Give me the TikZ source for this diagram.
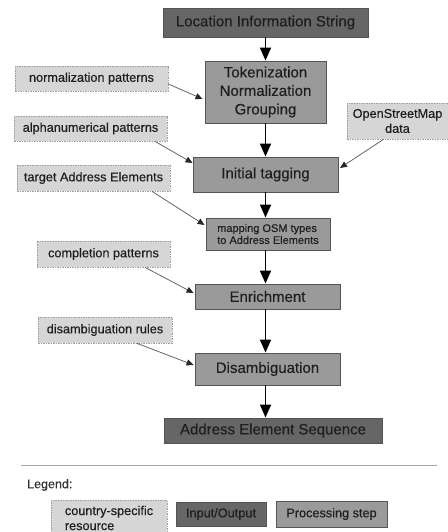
\documentclass[tikz,border=0pt]{standalone}
\usepackage{fontspec}
\setmainfont{Liberation Sans}[FakeBold=0.35]
\usetikzlibrary{arrows.meta,calc}
\definecolor{iofill}{HTML}{666666}
\definecolor{procfill}{HTML}{9A9A9A}
\definecolor{resfill}{HTML}{D6D6D6}
\definecolor{boxline}{HTML}{555555}
\definecolor{inkdark}{HTML}{1E1E1E}
\definecolor{tipdark}{HTML}{262626}
\tikzset{
  iobox/.style={draw=boxline, line width=0.9pt, fill=iofill, text=inkdark,
    inner sep=0pt, font=\fontsize{15}{18.5}\selectfont},
  procbox/.style={draw=boxline, line width=0.9pt, fill=procfill, text=inkdark,
    inner sep=0pt, align=center, font=\fontsize{15}{18.5}\selectfont},
  resbox/.style={draw=gray!75, line width=0.7pt, dash pattern=on 1.5pt off 1pt,
    fill=resfill, text=inkdark, inner sep=0pt, align=center,
    font=\fontsize{12.7}{15}\selectfont},
  flow/.style={line width=1.8pt, black,
    -{Triangle[length=13pt,width=11pt]}},
  feed/.style={line width=0.8pt, gray!80!black,
    -{Triangle[length=7pt,width=6pt,color=tipdark,fill=tipdark]}},
}
\begin{document}
\begin{tikzpicture}[x=1pt,y=-1pt]
\useasboundingbox[fill=white] (0,0) rectangle (447,532);

% processing chain
\node[iobox, minimum width=205pt, minimum height=29pt] (loc) at (265.5,22.5) {Location Information String};
\node[procbox, minimum width=121pt, minimum height=62pt] (tok) at (265.5,92) {Tokenization\\Normalization\\Grouping};
\node[procbox, minimum width=145pt, minimum height=35pt] (init) at (265.5,174.5) {Initial tagging};
\node[procbox, minimum width=124pt, minimum height=32pt, align=left,
      font=\fontsize{11}{12}\selectfont] (map) at (268,234) {mapping OSM types\\to Address Elements};
\node[procbox, minimum width=145pt, minimum height=25pt] (enr) at (267.5,296.5) {Enrichment};
\node[procbox, minimum width=145pt, minimum height=32pt] (dis) at (267.5,369) {Disambiguation};
\node[iobox, minimum width=218pt, minimum height=25pt] (aes) at (273,430.5) {Address Element Sequence};

% country-specific resources
\node[resbox, minimum width=153pt, minimum height=25pt] (norm) at (91.5,78.5) {normalization patterns};
\node[resbox, minimum width=153pt, minimum height=25pt] (alpha) at (90.5,128.5) {alphanumerical patterns};
\node[resbox, minimum width=101pt, minimum height=36pt] (osm) at (397.5,121) {OpenStreetMap\\data};
\node[resbox, minimum width=153pt, minimum height=26pt] (targ) at (93.5,178) {target Address Elements};
\node[resbox, minimum width=133pt, minimum height=26pt] (compl) at (103.5,254) {completion patterns};
\node[resbox, minimum width=134pt, minimum height=26pt] (drules) at (105,330) {disambiguation rules};

% main flow
\draw[flow] (loc.south -| tok.north) -- (tok.north);
\draw[flow] (tok.south) -- (tok.south |- init.north);
\draw[flow] (init.south) -- (init.south |- map.north);
\draw[flow] (map.south -| init.south) -- (enr.north -| init.south);
\draw[flow] (enr.south -| init.south) -- (dis.north -| init.south);
\draw[flow] (dis.south -| init.south) -- (aes.north -| init.south);

% resource inputs
\draw[feed] ($(norm.east)+(0,5.5)$) -- ($(tok.west)+(-2,7)$);
\draw[feed] ($(alpha.south)+(64.5,0)$) -- ($(init.west)+(0,-11.5)$);
\draw[feed] ($(osm.south)+(-14,0)$) -- ($(init.east)+(1.5,-6.5)$);
\draw[feed] ($(targ.south)+(58.5,0)$) -- ($(map.west)+(-1,-9)$);
\draw[feed] ($(compl.south)+(41.5,0)$) -- ($(enr.west)+(-1,-3.5)$);
\draw[feed] ($(drules.south)+(32,0)$) -- ($(dis.west)+(-1,-4)$);

% legend
\coordinate (sepL) at (21,465);
\coordinate (sepR) at (437,465);
\draw[gray!70, line width=0.8pt] (sepL) -- (sepR);
\node[anchor=west, inner sep=0pt, text=black!80, font=\fontsize{12.5}{15}\selectfont] (leg) at (27,485) {Legend:};
\node[resbox, minimum width=116pt, minimum height=36pt, align=left] (lres) at (109,518) {country-specific\\resource};
\node[iobox, minimum width=90pt, minimum height=24pt, font=\fontsize{12.7}{15}\selectfont] (lio) at (221,514) {Input/Output};
\node[procbox, minimum width=111pt, minimum height=26pt, font=\fontsize{12.7}{15}\selectfont] (lproc) at (331.5,514) {Processing step};
\end{tikzpicture}
\end{document}
